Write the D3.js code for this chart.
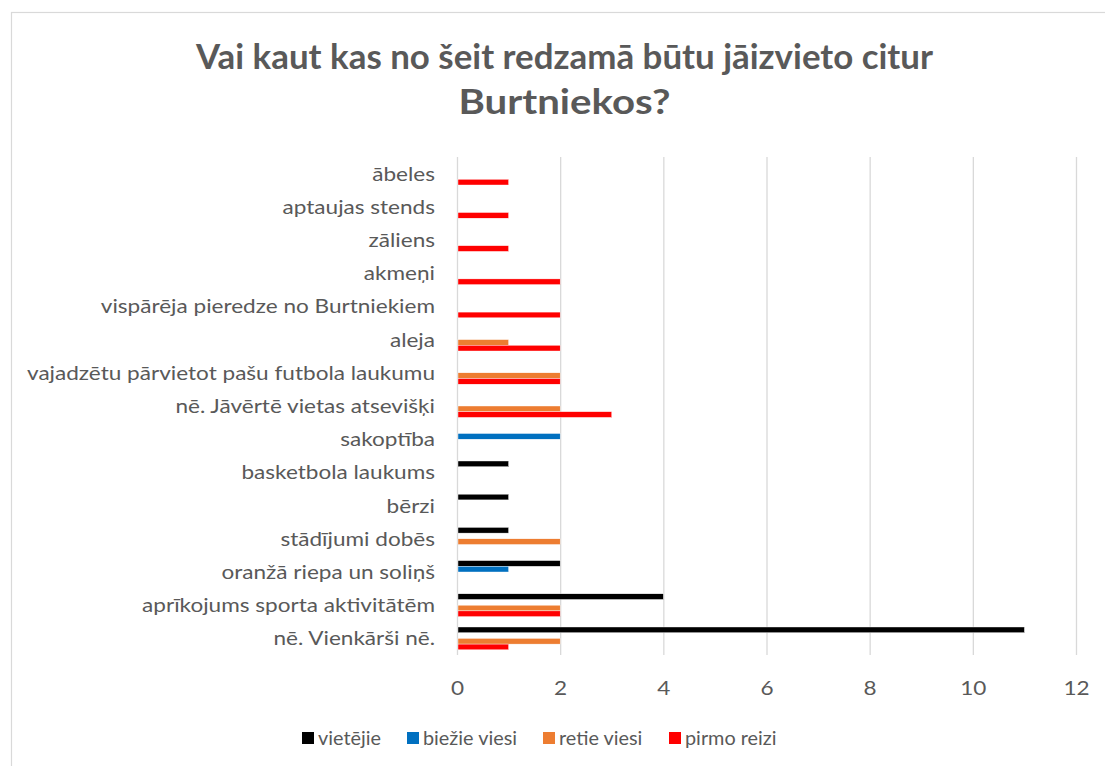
<!DOCTYPE html>
<html>
<head>
<meta charset="utf-8">
<script src="https://cdn.jsdelivr.net/npm/d3@7"></script>
<style>
  html, body { margin: 0; padding: 0; background: #fff; }
  svg { display: block; }
</style>
</head>
<body>
<svg id="chart" width="1105" height="766"></svg>
<script>
// ---- data (categories listed top to bottom as drawn) ----
const categories = [
  "ābeles",
  "aptaujas stends",
  "zāliens",
  "akmeņi",
  "vispārēja pieredze no Burtniekiem",
  "aleja",
  "vajadzētu pārvietot pašu futbola laukumu",
  "nē. Jāvērtē vietas atsevišķi",
  "sakoptība",
  "basketbola laukums",
  "bērzi",
  "stādījumi dobēs",
  "oranžā riepa un soliņš",
  "aprīkojums sporta aktivitātēm",
  "nē. Vienkārši nē."
];
const seriesNames = ["vietējie", "biežie viesi", "retie viesi", "pirmo reizi"];
const vietejie    = [0, 0, 0, 0, 0, 0, 0, 0, 0, 1, 1, 1, 2, 4, 11];
const biezieViesi = [0, 0, 0, 0, 0, 0, 0, 0, 2, 0, 0, 0, 1, 0, 0];
const retieViesi  = [0, 0, 0, 0, 0, 1, 2, 2, 0, 0, 0, 2, 0, 2, 2];
const pirmoReizi  = [1, 1, 1, 2, 2, 2, 2, 3, 0, 0, 0, 0, 0, 2, 1];
const xTicks = [0, 2, 4, 6, 8, 10, 12];
const titleLines = ["Vai kaut kas no šeit redzamā būtu jāizvieto citur", "Burtniekos?"];

const seriesValues = [vietejie, biezieViesi, retieViesi, pirmoReizi];
const colors = ["#000000", "#0070C0", "#ED7D31", "#FF0000"];

// ---- layout ----
const svg = d3.select("#chart");
const FONT = "Lato, 'Open Sans', sans-serif";
const textColor = "#595959";
const plot = { left: 457, right: 1076, top: 157, bottom: 655 };

// chart border (Excel chart area)
svg.append("rect")
  .attr("x", 11.5).attr("y", 12.5)
  .attr("width", 1105).attr("height", 800)
  .attr("fill", "#fff").attr("stroke", "#d9d9d9").attr("stroke-width", 1.2);

const x = d3.scaleLinear().domain([0, 12]).range([plot.left, plot.right]);
const y = d3.scaleBand().domain(categories).range([plot.top, plot.bottom])
  .paddingInner(0.313).paddingOuter(0.1565);
const ys = d3.scaleBand().domain(seriesNames).range([0, y.bandwidth()]);

// helper: fit text horizontally with a common condensation factor
function condense(sel, factor) {
  sel.each(function() {
    const w = this.getComputedTextLength();
    d3.select(this).attr("textLength", w * factor).attr("lengthAdjust", "spacingAndGlyphs");
  });
}

// gridlines
svg.append("g").selectAll("line").data(xTicks).join("line")
  .attr("x1", d => x(d) + 0.5).attr("x2", d => x(d) + 0.5)
  .attr("y1", plot.top).attr("y2", plot.bottom)
  .attr("stroke", "#d9d9d9").attr("stroke-width", 1.3);

// bars
const groups = svg.append("g").selectAll("g").data(categories).join("g")
  .attr("transform", d => `translate(0,${y(d)})`);
groups.selectAll("rect")
  .data((c, i) => seriesNames.map((s, k) => ({ s, k, v: seriesValues[k][i] })).filter(d => d.v > 0))
  .join("rect")
  .attr("x", x(0) + 1)
  .attr("y", d => ys(d.s))
  .attr("width", d => x(d.v) - x(0) - 1)
  .attr("height", ys.bandwidth())
  .attr("fill", d => colors[d.k])
  .attr("stroke", "#fff").attr("stroke-width", 0.4);

// category axis labels
const catLabels = svg.append("g").selectAll("text").data(categories).join("text")
  .attr("x", 435)
  .attr("y", d => y(d) + y.bandwidth() / 2)
  .attr("dy", "0.35em")
  .attr("text-anchor", "end")
  .attr("font-family", FONT).attr("font-size", 20)
  .attr("fill", textColor)
  .text(d => d);
// scale so that longest label is ~408px wide
let maxW = 0;
catLabels.each(function() { maxW = Math.max(maxW, this.getComputedTextLength()); });
const catFactor = 408 / maxW;
condense(catLabels, catFactor);

// x axis tick labels
const tickLabels = svg.append("g").selectAll("text").data(xTicks).join("text")
  .attr("x", d => x(d) + 0.5)
  .attr("y", 688)
  .attr("dy", "0.35em")
  .attr("text-anchor", "middle")
  .attr("font-family", FONT).attr("font-size", 20)
  .attr("fill", textColor)
  .text(d => d);
condense(tickLabels, catFactor);

// title
const titleTargets = [737, 212];
const titleY = [57, 102];
titleLines.forEach((t, i) => {
  const tt = svg.append("text")
    .attr("x", 564.5).attr("y", titleY[i])
    .attr("dy", "0.35em")
    .attr("text-anchor", "middle")
    .attr("font-family", FONT).attr("font-size", 34).attr("font-weight", "bold")
    .attr("fill", textColor)
    .text(t);
  tt.attr("textLength", titleTargets[i]).attr("lengthAdjust", "spacingAndGlyphs");
});

// legend
const legendX = [302, 407, 543, 669];
const legend = svg.append("g").selectAll("g").data(seriesNames).join("g")
  .attr("transform", (d, i) => `translate(${legendX[i]},738)`);
legend.append("rect")
  .attr("x", 0).attr("y", -6).attr("width", 12).attr("height", 12)
  .attr("fill", (d, i) => colors[i]);
const legText = legend.append("text")
  .attr("x", 16).attr("y", 0).attr("dy", "0.35em")
  .attr("font-family", FONT).attr("font-size", 20)
  .attr("fill", textColor)
  .text(d => d);
// legend text: "biežie viesi" is ~94px wide
let bw = 0;
legText.each(function(d) { if (d === "biežie viesi") bw = this.getComputedTextLength(); });
condense(legText, 94 / bw);
</script>
</body>
</html>
